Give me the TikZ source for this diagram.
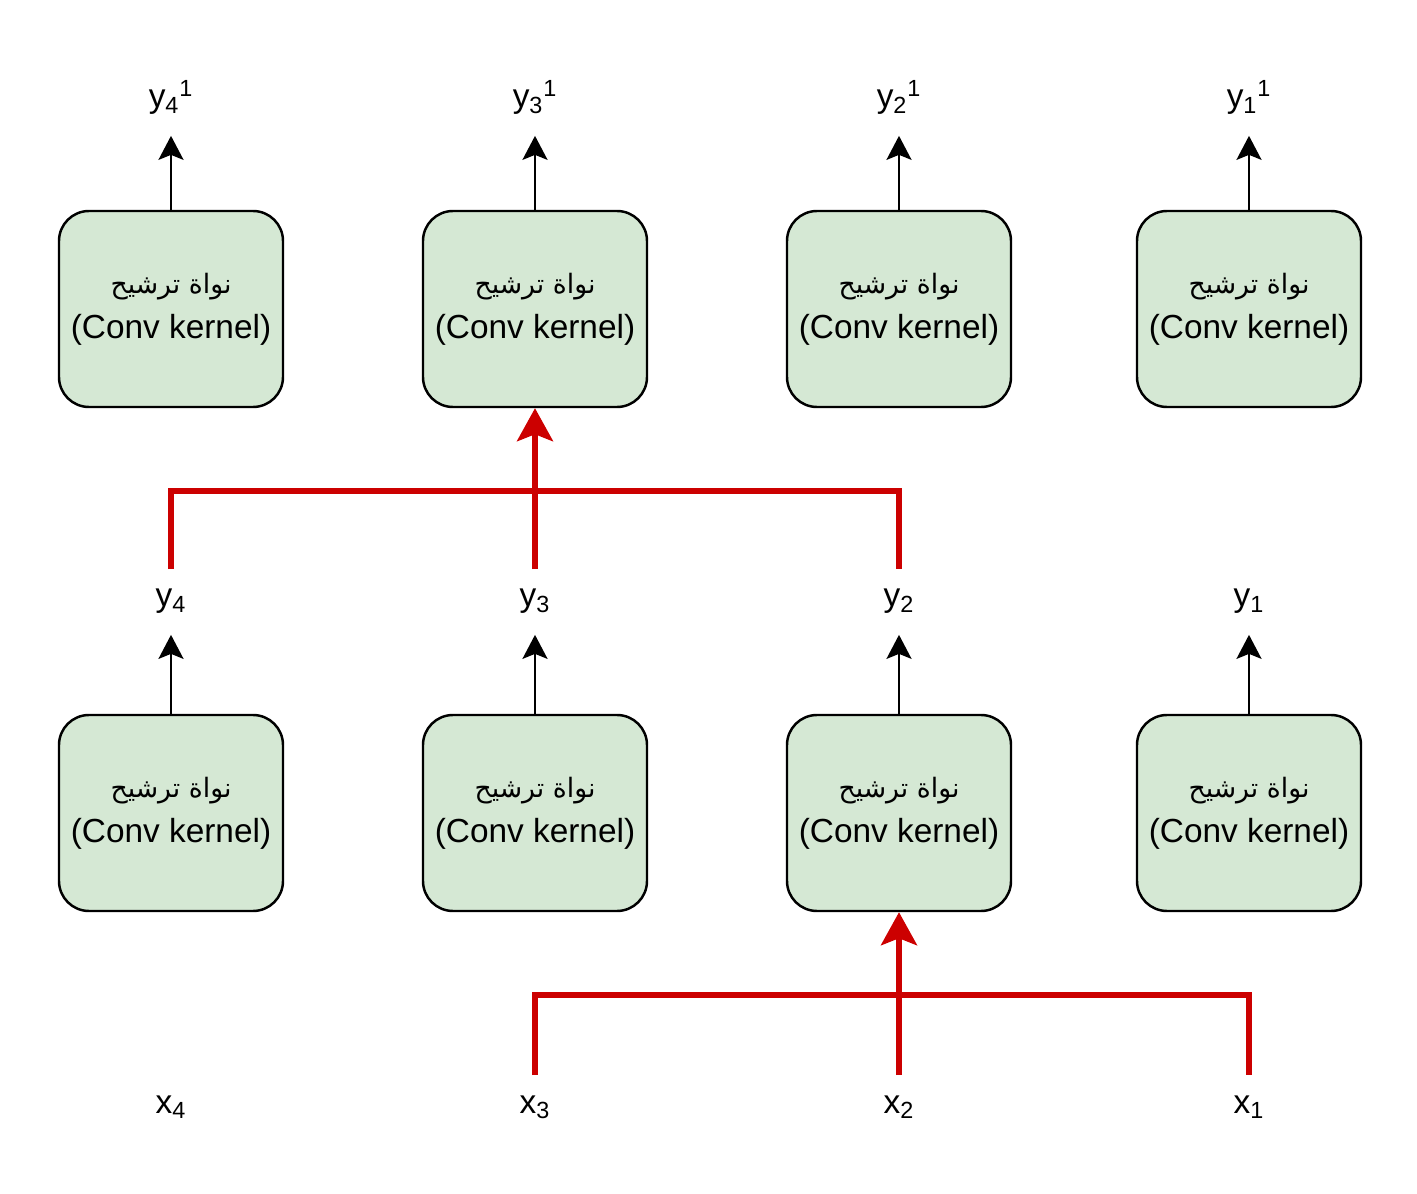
\documentclass[tikz,border=0pt]{standalone}
\usepackage{fontspec}
\setmainfont{Liberation Sans}
\newfontfamily\arabicfont[Script=Arabic,Scale=0.8]{DejaVu Sans}
\TeXXeTstate=1
\usetikzlibrary{arrows.meta}
\definecolor{kernelfill}{HTML}{D5E8D4}
\definecolor{flowred}{HTML}{CC0000}
\newcommand{\kerneltext}{{\arabicfont\beginR نواة ترشيح\endR}\\[0.1cm](Conv kernel)}
\tikzset{
  kernel/.style={draw, fill=kernelfill, line width=1.4pt, rounded corners=0.6cm,
    minimum width=4.48cm, minimum height=3.92cm, align=center,
    font=\fontsize{19}{22.7}\selectfont},
  sig/.style={anchor=base, inner xsep=2pt, inner ysep=0.45cm, text height=0.3cm,
    text depth=0.1cm, font=\fontsize{19}{22}\selectfont},
  yieldarrow/.style={line width=1.4pt, -{Stealth[length=0.48cm, width=0.5cm, inset=0.1cm]}},
  feed/.style={draw=flowred, line width=3pt},
  feedarrow/.style={feed, -{Stealth[length=0.66cm, width=0.72cm, inset=0.14cm]}}
}
\begin{document}
\begin{tikzpicture}
  \useasboundingbox (0,0) rectangle (28.34,23.86);
  % upper layer
  \node[kernel] (t4) at (3.42,17.68) {\kerneltext};
  \node[kernel] (t3) at (10.70,17.68) {\kerneltext};
  \node[kernel] (t2) at (17.98,17.68) {\kerneltext};
  \node[kernel] (t1) at (24.98,17.68) {\kerneltext};
  \node[sig] (z4) at (3.42,21.70) {y\textsubscript{4}\textsuperscript{1}};
  \node[sig] (z3) at (10.70,21.70) {y\textsubscript{3}\textsuperscript{1}};
  \node[sig] (z2) at (17.98,21.70) {y\textsubscript{2}\textsuperscript{1}};
  \node[sig] (z1) at (24.98,21.70) {y\textsubscript{1}\textsuperscript{1}};
  \draw[yieldarrow] (t4) -- (z4.south);
  \draw[yieldarrow] (t3) -- (z3.south);
  \draw[yieldarrow] (t2) -- (z2.south);
  \draw[yieldarrow] (t1) -- (z1.south);
  % lower layer
  \node[kernel] (b4) at (3.42,7.60) {\kerneltext};
  \node[kernel] (b3) at (10.70,7.60) {\kerneltext};
  \node[kernel] (b2) at (17.98,7.60) {\kerneltext};
  \node[kernel] (b1) at (24.98,7.60) {\kerneltext};
  \node[sig] (y4) at (3.42,11.72) {y\textsubscript{4}};
  \node[sig] (y3) at (10.70,11.72) {y\textsubscript{3}};
  \node[sig] (y2) at (17.98,11.72) {y\textsubscript{2}};
  \node[sig] (y1) at (24.98,11.72) {y\textsubscript{1}};
  \draw[yieldarrow] (b4) -- (y4.south);
  \draw[yieldarrow] (b3) -- (y3.south);
  \draw[yieldarrow] (b2) -- (y2.south);
  \draw[yieldarrow] (b1) -- (y1.south);
  % inputs
  \node[sig] (x4) at (3.42,1.60) {x\textsubscript{4}};
  \node[sig] (x3) at (10.70,1.60) {x\textsubscript{3}};
  \node[sig] (x2) at (17.98,1.60) {x\textsubscript{2}};
  \node[sig] (x1) at (24.98,1.60) {x\textsubscript{1}};
  % receptive fields
  \coordinate (j1) at (10.70,14.04);
  \coordinate (j2) at (17.98,3.96);
  \draw[feed] (y4.north) |- (j1) -| (y2.north);
  \draw[feedarrow] (y3.north) -- (t3.south);
  \draw[feed] (x3.north) |- (j2) -| (x1.north);
  \draw[feedarrow] (x2.north) -- (b2.south);
\end{tikzpicture}
\end{document}
